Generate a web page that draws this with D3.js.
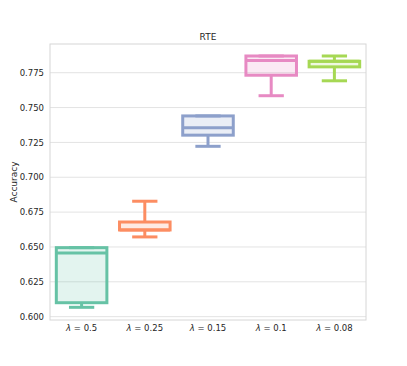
<!DOCTYPE html>
<html>
<head>
<meta charset="utf-8">
<script src="https://cdn.jsdelivr.net/npm/d3@7"></script>
<style>
body { margin: 0; background: #fff; }
svg { display: block; font-family: "DejaVu Sans", sans-serif; }
</style>
</head>
<body>
<svg id="chart" width="407" height="366"></svg>
<script>
const categories = ["0.5", "0.25", "0.15", "0.1", "0.08"];
const whiskerLow = [0.6067, 0.6572, 0.7222, 0.7585, 0.7692];
const q1 = [0.6100, 0.6622, 0.7302, 0.7732, 0.7792];
const median = [0.6457, 0.6622, 0.7356, 0.7837, 0.7832];
const q3 = [0.6495, 0.6679, 0.7440, 0.7870, 0.7832];
const whiskerHigh = [0.6495, 0.6828, 0.7440, 0.7870, 0.7870];
const colors = ["#66c2a5", "#fc8d62", "#8da0cb", "#e78ac3", "#a6d854"];
const yTicks = [0.600, 0.625, 0.650, 0.675, 0.700, 0.725, 0.750, 0.775];

const svg = d3.select("#chart");
const L = 50, R = 366, T = 44, B = 320;

const x = d3.scaleBand().domain(categories).range([L, R]).paddingInner(0).paddingOuter(0);
const y = d3.scaleLinear().domain([0.5976, 0.7956]).range([B, T]);

// grid
svg.append("g").selectAll("line").data(yTicks).join("line")
  .attr("x1", L).attr("x2", R)
  .attr("y1", d => y(d)).attr("y2", d => y(d))
  .attr("stroke", "#e3e3e3").attr("stroke-width", 1);

// spines
svg.append("rect").attr("x", L).attr("y", T).attr("width", R - L).attr("height", B - T)
  .attr("fill", "none").attr("stroke", "#d6d6d6").attr("stroke-width", 1);

// y axis
const yAxis = d3.axisLeft(y).tickValues(yTicks).tickFormat(d3.format(".3f")).tickSize(0).tickPadding(6);
const ya = svg.append("g").attr("transform", `translate(${L},0)`).call(yAxis);
ya.select(".domain").remove();
ya.selectAll("text").attr("font-size", "8.5px").attr("fill", "#262626").attr("font-family", "DejaVu Sans");

// x axis
const xAxis = d3.axisBottom(x).tickSize(0).tickPadding(8).tickFormat("");
const xa = svg.append("g").attr("transform", `translate(0,${B})`).call(xAxis);
xa.select(".domain").remove();
xa.selectAll(".tick").each(function(d) {
  const t = d3.select(this).append("text")
    .attr("y", 11).attr("text-anchor", "middle")
    .attr("font-size", "8.5px").attr("fill", "#262626").attr("font-family", "DejaVu Sans");
  t.append("tspan").attr("font-style", "italic").text("λ");
  t.append("tspan").text(" = " + d);
});

// boxes
const bw = x.bandwidth() * 0.8;
const cw = bw * 0.5;
const boxes = svg.append("g").selectAll("g").data(categories).join("g");
boxes.each(function(c, i) {
  const g = d3.select(this);
  const cx = x(c) + x.bandwidth() / 2;
  const col = colors[i];
  const sw = 3;
  g.append("line").attr("x1", cx).attr("x2", cx).attr("y1", y(q1[i])).attr("y2", y(whiskerLow[i]))
    .attr("stroke", col).attr("stroke-width", sw);
  g.append("line").attr("x1", cx).attr("x2", cx).attr("y1", y(q3[i])).attr("y2", y(whiskerHigh[i]))
    .attr("stroke", col).attr("stroke-width", sw);
  g.append("line").attr("x1", cx - cw / 2).attr("x2", cx + cw / 2).attr("y1", y(whiskerLow[i])).attr("y2", y(whiskerLow[i]))
    .attr("stroke", col).attr("stroke-width", sw);
  g.append("line").attr("x1", cx - cw / 2).attr("x2", cx + cw / 2).attr("y1", y(whiskerHigh[i])).attr("y2", y(whiskerHigh[i]))
    .attr("stroke", col).attr("stroke-width", sw);
  g.append("rect").attr("x", cx - bw / 2).attr("width", bw)
    .attr("y", y(q3[i])).attr("height", y(q1[i]) - y(q3[i]))
    .attr("fill", col).attr("fill-opacity", 0.18)
    .attr("stroke", col).attr("stroke-width", sw);
  g.append("line").attr("x1", cx - bw / 2).attr("x2", cx + bw / 2).attr("y1", y(median[i])).attr("y2", y(median[i]))
    .attr("stroke", col).attr("stroke-width", sw);
});

// title
svg.append("text").attr("x", (L + R) / 2).attr("y", 39.5).attr("text-anchor", "middle")
  .attr("font-size", "9px").attr("fill", "#262626").text("RTE");

// y label
svg.append("text").attr("transform", `translate(17,${(T + B) / 2}) rotate(-90)`)
  .attr("text-anchor", "middle").attr("font-size", "9px").attr("fill", "#262626").text("Accuracy");
</script>
</body>
</html>
